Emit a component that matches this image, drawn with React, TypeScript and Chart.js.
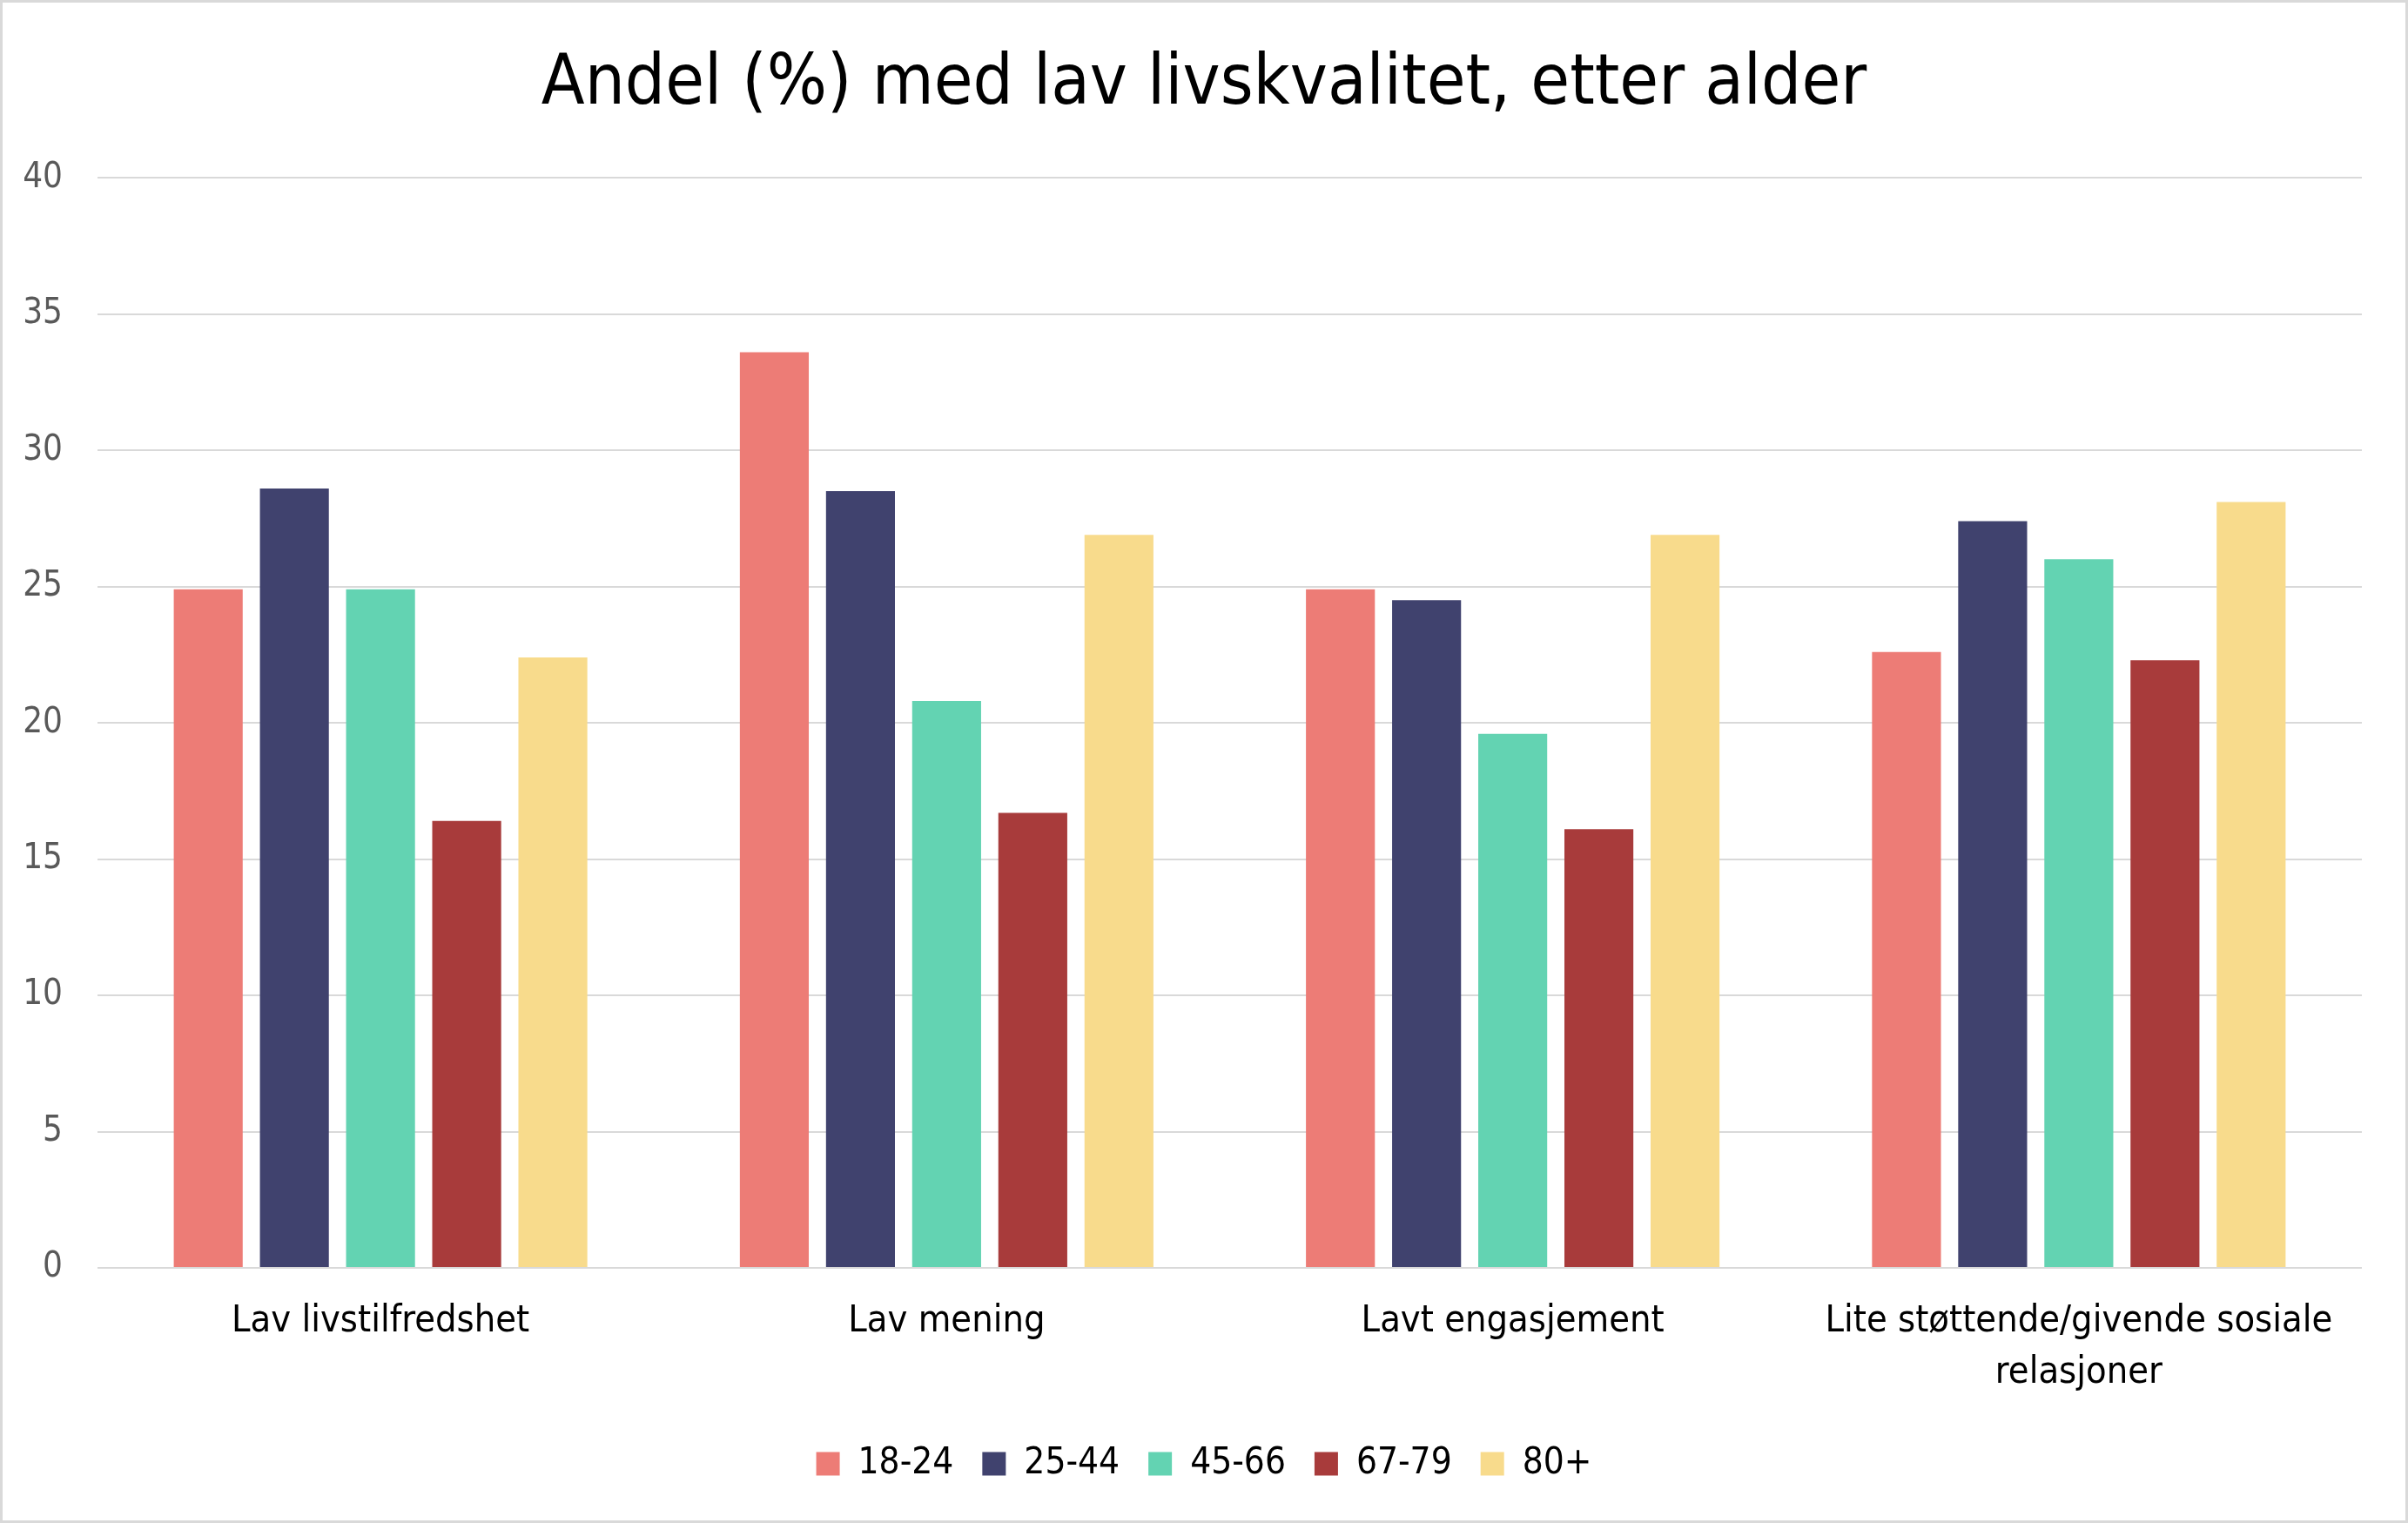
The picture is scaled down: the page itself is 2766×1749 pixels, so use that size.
import React, { useEffect, useRef } from "react";
import { Chart, registerables } from "chart.js";

Chart.register(...registerables);

const categories: (string | string[])[] = [
  "Lav livstilfredshet",
  "Lav mening",
  "Lavt engasjement",
  ["Lite støttende/givende sosiale", "relasjoner"],
];

const seriesNames = ["18-24", "25-44", "45-66", "67-79", "80+"];
const seriesColors = ["#ED7C76", "#40426E", "#63D3B2", "#A83B3B", "#F8DB8C"];

const age18_24 = [24.9, 33.6, 24.9, 22.6];
const age25_44 = [28.6, 28.5, 24.5, 27.4];
const age45_66 = [24.9, 20.8, 19.6, 26.0];
const age67_79 = [16.4, 16.7, 16.1, 22.3];
const age80plus = [22.4, 26.9, 26.9, 28.1];

const yTicks = [0, 5, 10, 15, 20, 25, 30, 35, 40];

const FONT = "'Liberation Sans Narrow', 'DejaVu Sans Condensed', sans-serif";

const W = 2766;
const H = 1749;

export default function App() {
  const ref = useRef<HTMLCanvasElement | null>(null);

  useEffect(() => {
    document.body.style.margin = "0";
    const canvas = ref.current;
    if (!canvas) return;
    const values = [age18_24, age25_44, age45_66, age67_79, age80plus];

    const frame = {
      id: "frame",
      beforeDraw(chart: any) {
        const ctx = chart.ctx;
        ctx.save();
        ctx.fillStyle = "#ffffff";
        ctx.fillRect(0, 0, chart.width, chart.height);
        ctx.strokeStyle = "#d9d9d9";
        ctx.lineWidth = 3;
        ctx.strokeRect(1.5, 1.5, chart.width - 3, chart.height - 3);
        ctx.restore();
      },
    };

    const chart = new Chart(canvas, {
      type: "bar",
      data: {
        labels: categories,
        datasets: seriesNames.map((name, i) => ({
          label: name,
          data: values[i],
          backgroundColor: seriesColors[i],
          borderWidth: 0,
          categoryPercentage: 0.761,
          barPercentage: 0.8,
        })),
      },
      options: {
        animation: false,
        responsive: false,
        devicePixelRatio: 1,
        layout: { padding: { left: 0, right: 0, top: 0, bottom: 37 } },
        plugins: {
          title: {
            display: true,
            text: "Andel (%) med lav livskvalitet, etter alder",
            color: "#000000",
            font: { family: FONT, size: 81, weight: "normal", lineHeight: 1.2 },
            padding: { top: 49, bottom: 58 },
          },
          legend: {
            position: "bottom",
            labels: {
              color: "#000000",
              font: { family: FONT, size: 42 },
              boxWidth: 27,
              boxHeight: 27,
              padding: 33,
            },
          },
          tooltip: { enabled: false },
        },
        scales: {
          x: {
            afterFit(scale: any) {
              scale.height -= 12;
            },
            grid: { display: false, drawTicks: false },
            border: { display: false },
            ticks: {
              color: "#000000",
              font: { family: FONT, size: 43, lineHeight: 1.36 },
              padding: 33,
              maxRotation: 0,
              autoSkip: false,
            },
          },
          y: {
            min: 0,
            max: 40,
            afterFit(scale: any) {
              scale.width = 112;
            },
            afterBuildTicks(scale: any) {
              scale.ticks = yTicks.map((v) => ({ value: v }));
            },
            grid: { color: "#d9d9d9", lineWidth: 2, drawTicks: false },
            border: { display: false },
            ticks: {
              color: "#595959",
              font: { family: FONT, size: 40 },
              padding: 40,
            },
          },
          yRight: {
            type: "linear",
            position: "right",
            min: 0,
            max: 1,
            afterFit(scale: any) {
              scale.width = 53;
            },
            grid: { display: false, drawTicks: false },
            border: { display: false },
            ticks: { display: false },
          },
        },
      },
      plugins: [frame],
    });

    return () => chart.destroy();
  }, []);

  return (
    <div style={{ position: "absolute", left: 0, top: 0, width: W, height: H }}>
      <canvas ref={ref} width={W} height={H} style={{ width: W, height: H, display: "block" }} />
    </div>
  );
}
